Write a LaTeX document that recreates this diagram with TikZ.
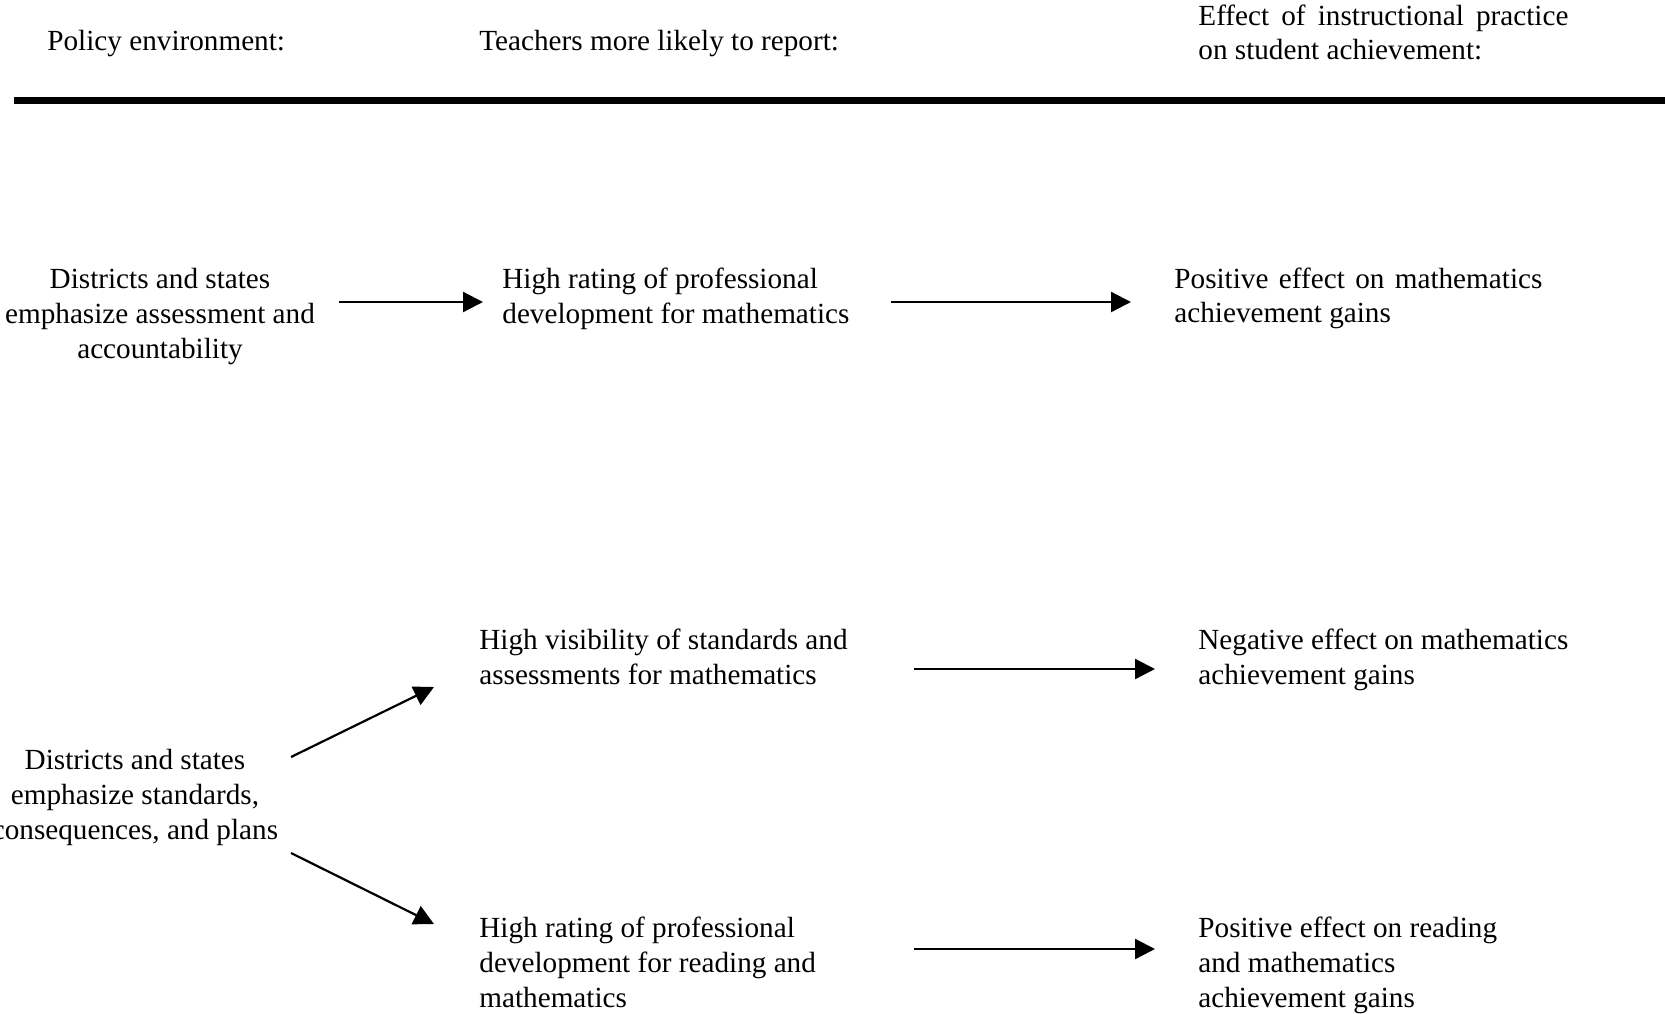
\documentclass[tikz,border=0pt]{standalone}
\usepackage{fontspec}
\setmainfont{Liberation Serif}
\usetikzlibrary{arrows.meta}
\begin{document}
\begin{tikzpicture}[x=0.5pt,y=-0.5pt,
 txt/.style={inner sep=0pt, font=\fontsize{14.6}{17.4}\selectfont, align=left, anchor=base west},
 jtxt/.style={txt, text width=#1, align=justify},
 ctxt/.style={txt, align=center, anchor=base},
 arr/.style={line width=1.1pt, -{Triangle[length=10pt,width=10pt]}}]
\useasboundingbox (0,0) rectangle (1665,1013);
% headers
\node[txt] (h1) at (47,50) {Policy environment:};
\node[txt] (h2) at (479,50) {Teachers more likely to report:};
\node[jtxt=185pt] (h3) at (1198,25) {Effect of instructional practice on student achievement:};
\coordinate (ruleL) at (14,100.5);
\coordinate (ruleR) at (1665,100.5);
\draw[line width=3.7pt] (ruleL) -- (ruleR);
% row 1
\node[ctxt] (p1) at (160,358) {Districts and states\\emphasize assessment and\\accountability};
\node[txt] (t1) at (502,323) {High rating of professional\\development for mathematics};
\node[jtxt=184pt] (e1) at (1174,288) {Positive effect on mathematics achievement gains};
\coordinate (a1s) at (339,302); \coordinate (a1e) at (483,302);
\coordinate (b1s) at (891,302); \coordinate (b1e) at (1131,302);
\draw[arr] (a1s) -- (a1e);
\draw[arr] (b1s) -- (b1e);
% row 2/3
\node[ctxt] (p2) at (135,839) {Districts and states\\emphasize standards,\\consequences, and plans};
\node[txt] (t2) at (479,684) {High visibility of standards and\\assessments for mathematics};
\node[txt] (e2) at (1198,684) {Negative effect on mathematics\\achievement gains};
\node[txt] (t3) at (479,1007) {High rating of professional\\development for reading and\\mathematics};
\node[txt] (e3) at (1198,1007) {Positive effect on reading\\and mathematics\\achievement gains};
\coordinate (d1s) at (291,757); \coordinate (d1e) at (434,687);
\coordinate (d2s) at (291,853); \coordinate (d2e) at (434,924);
\coordinate (b2s) at (914,669); \coordinate (b2e) at (1155,669);
\coordinate (b3s) at (914,949); \coordinate (b3e) at (1155,949);
\draw[arr] (d1s) -- (d1e);
\draw[arr] (d2s) -- (d2e);
\draw[arr] (b2s) -- (b2e);
\draw[arr] (b3s) -- (b3e);
\end{tikzpicture}
\end{document}
